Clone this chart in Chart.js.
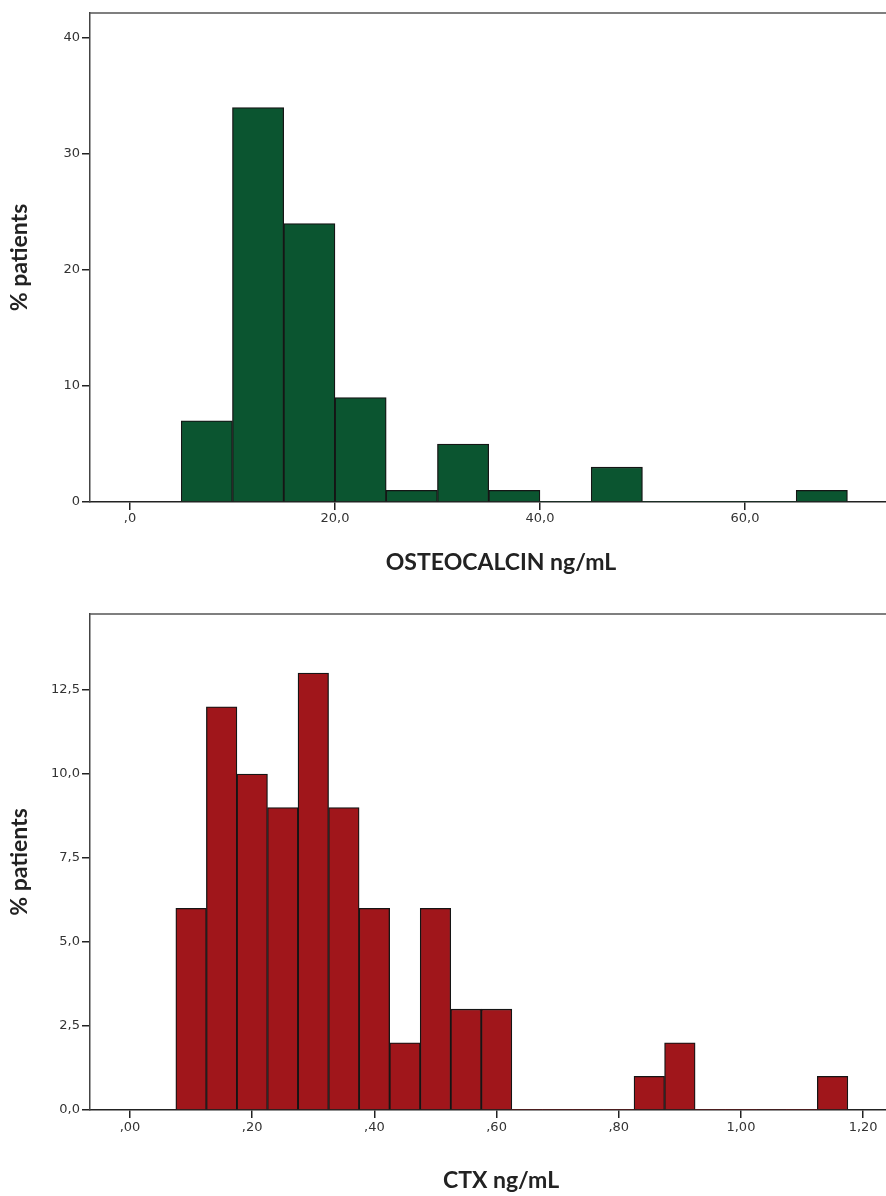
<!DOCTYPE html>
<html>
<head>
<meta charset="utf-8">
<script src="https://cdn.jsdelivr.net/npm/chart.js@4.4.1/dist/chart.umd.min.js"></script>
<style>
  html, body { margin: 0; padding: 0; background: #fff; overflow: hidden; }
  canvas { display: block; }
</style>
</head>
<body>
<canvas id="osteo" width="912" height="600"></canvas>
<canvas id="ctx" width="912" height="596"></canvas>
<script>
// OSTEOCALCIN histogram (bin centres, bin width 5)
const osteoBins = [7.5, 12.5, 17.5, 22.5, 27.5, 32.5, 37.5, 42.5, 47.5, 52.5, 57.5, 62.5, 67.5];
const osteoPct = [7, 34, 24, 9, 1, 5, 1, 0, 3, 0, 0, 0, 1];
const osteoXTicks = [0, 20, 40, 60];
const osteoXLabels = [",0", "20,0", "40,0", "60,0"];
const osteoYTicks = [0, 10, 20, 30, 40];
const osteoYLabels = ["0", "10", "20", "30", "40"];

// CTX histogram (bin centres, bin width 0.05)
const ctxBins = [0.10, 0.15, 0.20, 0.25, 0.30, 0.35, 0.40, 0.45, 0.50, 0.55, 0.60, 0.65,
                 0.70, 0.75, 0.80, 0.85, 0.90, 0.95, 1.00, 1.05, 1.10, 1.15];
const ctxPct = [6, 12, 10, 9, 13, 9, 6, 2, 6, 3, 3, 0, 0, 0, 0, 1, 2, 0, 0, 0, 0, 1];
const ctxXTicks = [0, 0.2, 0.4, 0.6, 0.8, 1.0, 1.2];
const ctxXLabels = [",00", ",20", ",40", ",60", ",80", "1,00", "1,20"];
const ctxYTicks = [0, 2.5, 5, 7.5, 10, 12.5];
const ctxYLabels = ["0,0", "2,5", "5,0", "7,5", "10,0", "12,5"];

const frameTop = {
    id: 'frameTop',
    afterDraw(chart) {
        const a = chart.chartArea;
        const c = chart.ctx;
        c.save();
        c.strokeStyle = '#555';
        c.lineWidth = 1.5;
        c.beginPath();
        c.moveTo(a.left, a.top);
        c.lineTo(a.right, a.top);
        c.stroke();
        c.restore();
    }
};

function histogram(id, bins, values, color, opts) {
    const tickFont = {family: "Verdana, 'DejaVu Sans', sans-serif", size: 13};
    const titleFont = {family: "Lato, 'Open Sans', sans-serif", size: 23, weight: 'bold', lineHeight: 1.2};
    return new Chart(document.getElementById(id), {
        type: 'bar',
        data: {
            datasets: [{
                data: bins.map((b, i) => ({x: b, y: values[i]})),
                backgroundColor: color,
                borderColor: '#151515',
                borderWidth: c => (c.raw && c.raw.y > 0 ? 1.3 : 0),
                barPercentage: 1,
                categoryPercentage: 1
            }]
        },
        options: {
            responsive: false,
            animation: false,
            layout: {padding: {top: opts.padTop, left: 0, right: 0, bottom: 0}},
            plugins: {legend: {display: false}, tooltip: {enabled: false}},
            scales: {
                x: {
                    type: 'linear',
                    min: opts.xMin,
                    max: opts.xMax,
                    offset: false,
                    afterBuildTicks: s => { s.ticks = opts.xTicks.map(v => ({value: v})); },
                    afterFit: s => { s.height = opts.xHeight; },
                    grid: {offset: false, drawOnChartArea: false, tickLength: 8, color: '#222', lineWidth: 1.5},
                    border: {color: '#222', width: 1.5},
                    ticks: {
                        color: '#333', font: tickFont, padding: opts.xTickPad, maxRotation: 0,
                        callback: (v, i) => opts.xLabels[i]
                    },
                    title: {
                        display: true, text: opts.xTitle, color: '#222', font: titleFont,
                        padding: {top: 0, bottom: opts.xTitlePad}
                    }
                },
                y: {
                    min: 0,
                    max: opts.yMax,
                    afterBuildTicks: s => { s.ticks = opts.yTicks.map(v => ({value: v})); },
                    afterFit: s => { s.width = 90; },
                    grid: {drawOnChartArea: false, tickLength: 8, color: '#222', lineWidth: 1.5},
                    border: {color: '#444', width: 1.5},
                    ticks: {
                        color: '#333', font: tickFont, padding: 2,
                        callback: (v, i) => opts.yLabels[i]
                    },
                    title: {
                        display: true, text: '% patients', color: '#222', font: titleFont,
                        padding: {top: 6, bottom: 0}
                    }
                }
            }
        },
        plugins: [frameTop]
    });
}

histogram('osteo', osteoBins, osteoPct, '#0b5530', {
    padTop: 13, xMin: -3.9, xMax: 76.3, xHeight: 98, xTickPad: 1, xTitlePad: 24,
    xTicks: osteoXTicks, xLabels: osteoXLabels, yMax: 42.16,
    yTicks: osteoYTicks, yLabels: osteoYLabels, xTitle: 'OSTEOCALCIN ng/mL'
});

histogram('ctx', ctxBins, ctxPct, '#a0161b', {
    padTop: 14, xMin: -0.0655, xMax: 1.28, xHeight: 86, xTickPad: 2, xTitlePad: 2,
    xTicks: ctxXTicks, xLabels: ctxXLabels, yMax: 14.76,
    yTicks: ctxYTicks, yLabels: ctxYLabels, xTitle: 'CTX ng/mL'
});
</script>
</body>
</html>
